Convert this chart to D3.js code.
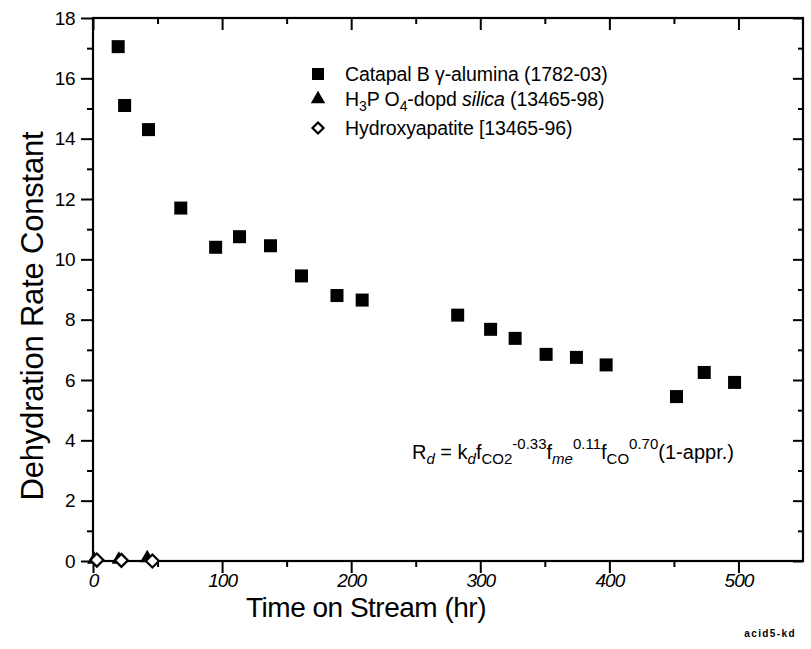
<!DOCTYPE html>
<html><head><meta charset="utf-8">
<script src="https://cdn.jsdelivr.net/npm/d3@7"></script>
<style>
html,body{margin:0;padding:0;background:#fff;}
svg{display:block;font-family:"Liberation Sans",Arial,Helvetica,sans-serif;}
</style></head>
<body>
<svg id="chart" width="811" height="649"></svg>
<script>
// ---- data ----
const aluminaTime = [19.5, 24.5, 43, 68, 95, 113.5, 137.5, 161.5, 189, 208.5, 282.5, 308, 327, 351, 374.5, 397.5, 452, 473.5, 497];
const aluminaRate = [17.05, 15.1, 14.3, 11.7, 10.4, 10.75, 10.45, 9.45, 8.8, 8.65, 8.15, 7.68, 7.38, 6.85, 6.75, 6.5, 5.45, 6.25, 5.92];
const silicaTime = [1, 20, 42];
const silicaRate = [0.05, 0.05, 0.1];
const hapTime = [3, 22, 46];
const hapRate = [0.03, 0.02, 0.0];
const xMajorTicks = [0, 100, 200, 300, 400, 500];
const xMinorTicks = [50, 150, 250, 350, 450];
const yMajorTicks = [0, 2, 4, 6, 8, 10, 12, 14, 16, 18];
const yMinorTicks = [1, 3, 5, 7, 9, 11, 13, 15, 17];
const xTitle = "Time on Stream (hr)";
const yTitle = "Dehydration Rate Constant";
const tag = "acid5-kd";

const svg = d3.select("#chart");
const L = 93, R = 803, T = 18, B = 561;
const x = d3.scaleLinear().domain([0, 550]).range([L, R]);
const y = d3.scaleLinear().domain([0, 18]).range([B, T]);

function styleAxis(g){
  g.select(".domain").remove();
  g.selectAll(".tick line").attr("stroke", "#000").attr("stroke-width", 2);
}
// bottom axis
svg.append("g").attr("transform", `translate(0,${B})`)
  .call(d3.axisBottom(x).tickValues(xMajorTicks).tickSize(12).tickPadding(1).tickFormat(d3.format("d")))
  .call(styleAxis)
  .call(g => g.selectAll("text").attr("font-size", 19).attr("font-style", "italic").attr("fill", "#000")
    .attr("font-family", '"Liberation Sans",Arial,sans-serif').attr("letter-spacing", -1));
svg.append("g").attr("transform", `translate(0,${B})`)
  .call(d3.axisBottom(x).tickValues(xMinorTicks).tickSize(6).tickFormat(""))
  .call(styleAxis);
// top axis (inward)
svg.append("g").attr("transform", `translate(0,${T})`)
  .call(d3.axisTop(x).tickValues(xMajorTicks).tickSize(-12).tickFormat(""))
  .call(styleAxis);
svg.append("g").attr("transform", `translate(0,${T})`)
  .call(d3.axisTop(x).tickValues(xMinorTicks).tickSize(-6).tickFormat(""))
  .call(styleAxis);
// left axis
svg.append("g").attr("transform", `translate(${L},0)`)
  .call(d3.axisLeft(y).tickValues(yMajorTicks).tickSize(12).tickPadding(6).tickFormat(d3.format("d")))
  .call(styleAxis)
  .call(g => g.selectAll("text").attr("font-size", 19).attr("fill", "#000")
    .attr("font-family", '"Liberation Sans",Arial,sans-serif').attr("letter-spacing", -0.5));
svg.append("g").attr("transform", `translate(${L},0)`)
  .call(d3.axisLeft(y).tickValues(yMinorTicks).tickSize(6).tickFormat(""))
  .call(styleAxis);
// right axis (inward)
svg.append("g").attr("transform", `translate(${R},0)`)
  .call(d3.axisRight(y).tickValues(yMajorTicks).tickSize(-10).tickFormat(""))
  .call(styleAxis);
svg.append("g").attr("transform", `translate(${R},0)`)
  .call(d3.axisRight(y).tickValues(yMinorTicks).tickSize(-5).tickFormat(""))
  .call(styleAxis);
// frame
svg.append("rect").attr("x", L).attr("y", T).attr("width", R - L).attr("height", B - T)
  .attr("fill", "none").attr("stroke", "#000").attr("stroke-width", 2.2);

// titles
svg.append("text").attr("x", 366).attr("y", 617).attr("text-anchor", "middle")
  .attr("font-size", 28).attr("letter-spacing", -0.5).text(xTitle);
svg.append("text").attr("transform", `translate(43,316) rotate(-90)`).attr("text-anchor", "middle")
  .attr("font-size", 31).attr("letter-spacing", -0.2).text(yTitle);
svg.append("text").attr("x", 796).attr("y", 637).attr("text-anchor", "end")
  .attr("font-size", 10).attr("font-weight", "bold").attr("letter-spacing", 1.4).text(tag);

// data marks
const sq = 13;
svg.append("g").selectAll("rect").data(aluminaTime.map((t, i) => [t, aluminaRate[i]])).join("rect")
  .attr("x", d => x(d[0]) - sq / 2).attr("y", d => y(d[1]) - sq / 2)
  .attr("width", sq).attr("height", sq).attr("fill", "#000");
const tri = d3.symbol().type(d3.symbolTriangle).size(90);
svg.append("g").selectAll("path").data(silicaTime.map((t, i) => [t, silicaRate[i]])).join("path")
  .attr("d", tri).attr("transform", d => `translate(${x(d[0])},${y(d[1])})`).attr("fill", "#000");
const dia = "M0,-6.5L6.5,0L0,6.5L-6.5,0Z";
svg.append("g").selectAll("path").data(hapTime.map((t, i) => [t, hapRate[i]])).join("path")
  .attr("d", dia).attr("transform", d => `translate(${x(d[0])},${y(d[1])})`)
  .attr("fill", "#fff").attr("stroke", "#000").attr("stroke-width", 2.2);

// legend
const lgX = 318, txX = 345, lfs = 19.5;
const lg = svg.append("g").attr("font-size", lfs).attr("letter-spacing", -0.1);
lg.append("rect").attr("x", lgX - 6).attr("y", 74 - 6).attr("width", 12).attr("height", 12).attr("fill", "#000");
lg.append("text").attr("x", txX).attr("y", 81).text("Catapal B \u03B3-alumina (1782-03)");
lg.append("path").attr("d", tri).attr("transform", `translate(${lgX},99)`).attr("fill", "#000");
const t2 = lg.append("text").attr("x", txX).attr("y", 106);
t2.append("tspan").text("H");
t2.append("tspan").attr("dy", 5).attr("font-size", 14).text("3");
t2.append("tspan").attr("dy", -5).text("P O");
t2.append("tspan").attr("dy", 5).attr("font-size", 14).text("4");
t2.append("tspan").attr("dy", -5).text("-dopd ");
t2.append("tspan").attr("font-style", "italic").text("silica");
t2.append("tspan").text(" (13465-98)");
lg.append("path").attr("d", "M0,-5.5L5.5,0L0,5.5L-5.5,0Z").attr("transform", `translate(${lgX},128)`)
  .attr("fill", "#fff").attr("stroke", "#000").attr("stroke-width", 2.2);
lg.append("text").attr("x", txX).attr("y", 135).text("Hydroxyapatite [13465-96)");

// formula
const f = svg.append("text").attr("x", 412).attr("y", 459).attr("font-size", 20).attr("letter-spacing", 0);
const sub = 5, sup = 10, sfs = 15;
f.append("tspan").text("R");
f.append("tspan").attr("dy", sub).attr("font-size", sfs).attr("font-style", "italic").text("d");
f.append("tspan").attr("dy", -sub).text(" = k");
f.append("tspan").attr("dy", sub).attr("font-size", sfs).attr("font-style", "italic").text("d");
f.append("tspan").attr("dy", -sub).text("f");
f.append("tspan").attr("dy", sub).attr("font-size", sfs).text("CO2");
f.append("tspan").attr("dy", -sub - sup).attr("font-size", sfs).text("-0.33");
f.append("tspan").attr("dy", sup).text("f");
f.append("tspan").attr("dy", sub).attr("font-size", sfs).attr("font-style", "italic").text("me");
f.append("tspan").attr("dy", -sub - sup).attr("font-size", sfs).text("0.11");
f.append("tspan").attr("dy", sup).text("f");
f.append("tspan").attr("dy", sub).attr("font-size", sfs).text("CO");
f.append("tspan").attr("dy", -sub - sup).attr("font-size", sfs).text("0.70");
f.append("tspan").attr("dy", sup).text("(1-appr.)");
</script>
</body></html>
